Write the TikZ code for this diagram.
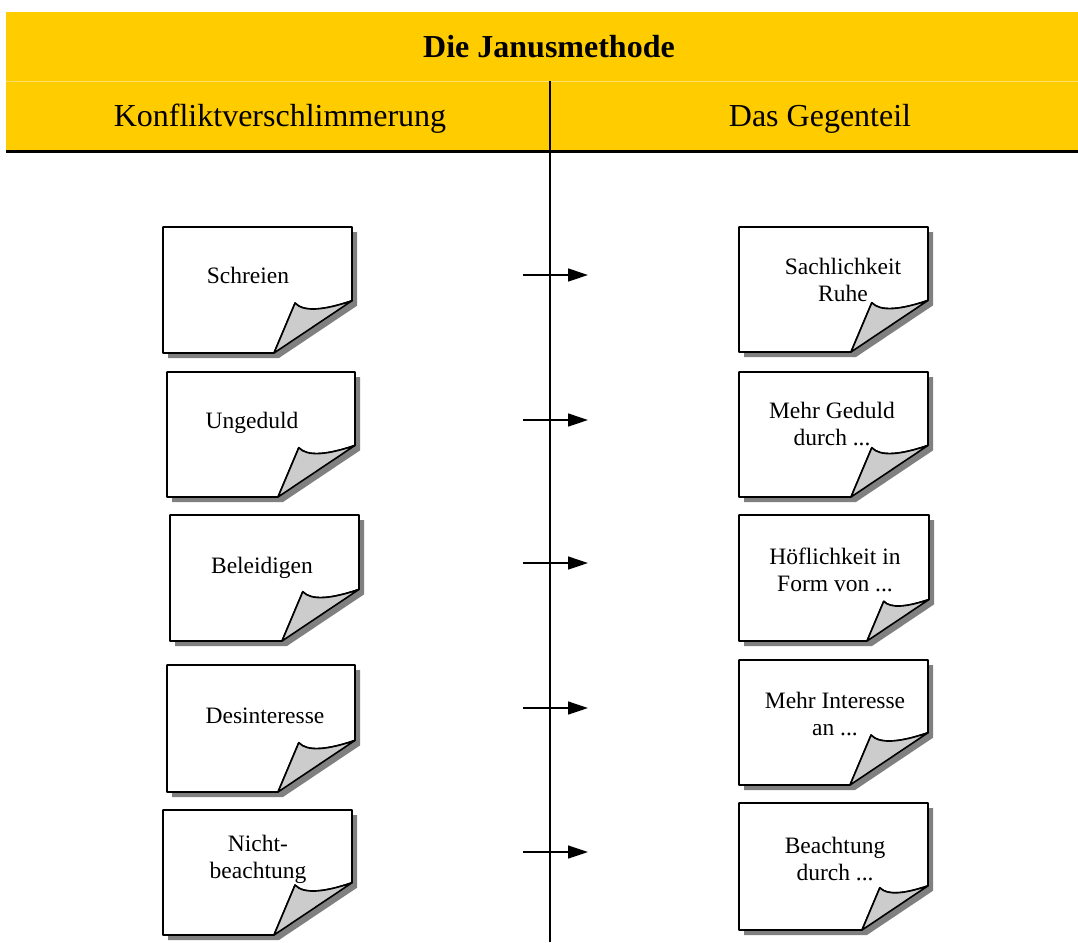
\documentclass[tikz,border=0pt]{standalone}
\usepackage{fontspec}
\setmainfont{Liberation Serif}
\usepackage{tikz}
\usetikzlibrary{arrows.meta}
\definecolor{janusgelb}{HTML}{FFCC00}

% sheet of paper with a curled corner: #1,#2 top left, #3,#4 bottom right, #5 curl size
\newcommand{\notesheet}[5]{%
  \fill[black!50] ({#1+5},{#2+5}) -- ({#3+5},{#2+5}) -- ({#3+5},{#4-0.67*#5+5})
    -- ({#3-#5+5},{#4+5}) -- ({#1+5},{#4+5}) -- cycle;
  \filldraw[fill=white, line width=1.6pt, line join=round] (#1,#2) -- (#3,#2) -- (#3,{#4-0.67*#5})
    .. controls ({#3-0.35*#5},{#4-0.55*#5}) and ({#3-0.62*#5},{#4-0.52*#5}) .. ({#3-0.73*#5},{#4-0.64*#5})
    -- ({#3-#5},#4) -- (#1,#4) -- cycle;
  \filldraw[fill=black!20, line width=1.6pt, line join=round] ({#3-#5},#4) -- ({#3-0.73*#5},{#4-0.64*#5})
    .. controls ({#3-0.62*#5},{#4-0.52*#5}) and ({#3-0.35*#5},{#4-0.55*#5}) .. (#3,{#4-0.67*#5}) -- cycle;
}

\begin{document}
\begin{tikzpicture}[x=1pt, y=-1pt, >={Triangle[length=20pt, width=13pt]},
    notetext/.style={align=center, anchor=base, font=\fontsize{23.5}{26.5}\selectfont},
    head/.style={anchor=base, font=\fontsize{32}{38}\selectfont}]
  \useasboundingbox (0,0) rectangle (1078,942);

  % header band
  \fill[janusgelb] (6,12) rectangle (1078,151);
  \draw[janusgelb!60, line width=0.6pt] (6,81) -- (1078,81);
  \draw[line width=3pt] (6,151) -- (1078,151);
  \node[head, font=\fontsize{32}{38}\selectfont\bfseries] (title) at (549,58) {Die Janusmethode};
  \node[head] (left) at (280,126) {Konfliktverschlimmerung};
  \node[head] (right) at (820,126) {Das Gegenteil};

  % divider
  \coordinate (divtop) at (550,81);
  \coordinate (divbot) at (550,942);
  \draw[line width=1.3pt] (divtop) -- (divbot);

  % left column (base = last line)
  \notesheet{163}{227}{352}{353}{78}
  \notesheet{167}{372}{355}{497}{77}
  \notesheet{170}{515}{359}{641}{77}
  \notesheet{167}{665}{355}{792}{77}
  \notesheet{163}{810}{352}{935}{78}
  \node[notetext] (schreien) at (248,283) {Schreien};
  \node[notetext] (ungeduld) at (252,428) {Ungeduld};
  \node[notetext] (beleid) at (262,573) {Beleidigen};
  \node[notetext] (desint) at (265,723) {Desinteresse};
  \node[notetext] (nichtb) at (258,878) {Nicht-\\beachtung};

  % right column
  \notesheet{739}{227}{928}{352}{77}
  \notesheet{739}{372}{928}{497}{77}
  \notesheet{739}{515}{929}{641}{62}
  \notesheet{739}{660}{928}{785}{78}
  \notesheet{739}{803}{928}{930}{66}
  \node[notetext] (sachl) at (843,301) {Sachlichkeit\\Ruhe};
  \node[notetext] (geduld) at (832,445) {Mehr Geduld\\durch ...};
  \node[notetext] (hoefl) at (835,591) {Höflichkeit in\\Form von ...};
  \node[notetext] (interesse) at (835,735) {Mehr Interesse\\an ...};
  \node[notetext] (beacht) at (835,880) {Beachtung\\durch ...};

  % arrows across the divider
  \coordinate (a1) at (523,275); \coordinate (b1) at (588,275);
  \coordinate (a2) at (523,420); \coordinate (b2) at (588,420);
  \coordinate (a3) at (523,563); \coordinate (b3) at (588,563);
  \coordinate (a4) at (523,708); \coordinate (b4) at (588,708);
  \coordinate (a5) at (523,852); \coordinate (b5) at (588,852);
  \draw[->, line width=1.3pt] (a1) -- (b1);
  \draw[->, line width=1.3pt] (a2) -- (b2);
  \draw[->, line width=1.3pt] (a3) -- (b3);
  \draw[->, line width=1.3pt] (a4) -- (b4);
  \draw[->, line width=1.3pt] (a5) -- (b5);
\end{tikzpicture}
\end{document}
